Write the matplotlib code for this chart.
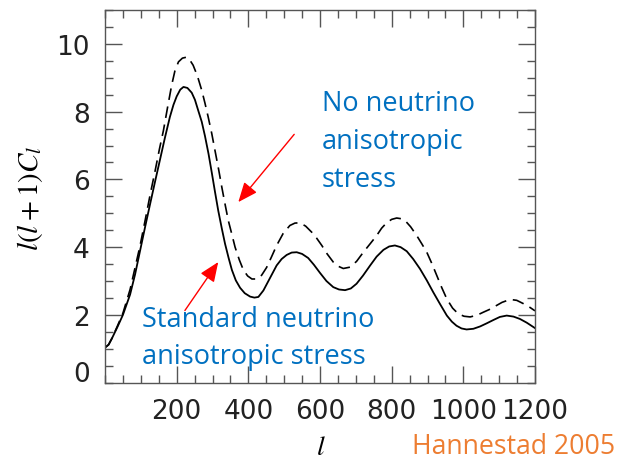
import matplotlib
matplotlib.use("Agg")
import matplotlib.pyplot as plt
from matplotlib.ticker import MultipleLocator

# solid: standard neutrino anisotropic stress
l_std = [2, 10, 20, 35, 50, 70, 84, 98, 112, 126, 140, 153, 167, 181, 191, 200, 210, 219,
         230, 242, 251, 260, 270, 279, 289, 298, 307, 316, 326, 335, 345, 354, 365, 377,
         390, 405, 417, 428, 442, 460, 479, 493, 507, 521, 535, 550, 567, 583, 600, 618,
         637, 653, 670, 686, 702, 720, 740, 758, 777, 793, 809, 825, 842, 860, 879, 898,
         916, 935, 954, 968, 981, 995, 1009, 1028, 1047, 1065, 1084, 1102, 1121, 1140,
         1158, 1177, 1200]
cl_std = [1.05, 1.12, 1.32, 1.65, 2.0, 2.6, 3.2, 3.9, 4.6, 5.28, 5.95, 6.56, 7.22, 7.84,
          8.2, 8.45, 8.65, 8.73, 8.7, 8.56, 8.35, 8.04, 7.7, 7.28, 6.75, 6.2, 5.63, 5.08,
          4.55, 4.1, 3.68, 3.33, 3.02, 2.8, 2.64, 2.54, 2.51, 2.53, 2.72, 3.08, 3.46, 3.65,
          3.77, 3.84, 3.85, 3.8, 3.68, 3.48, 3.24, 3.0, 2.82, 2.75, 2.73, 2.78, 2.92, 3.16,
          3.46, 3.72, 3.92, 4.02, 4.05, 4.0, 3.88, 3.65, 3.36, 3.02, 2.67, 2.32, 1.98, 1.8,
          1.68, 1.6, 1.57, 1.59, 1.66, 1.75, 1.85, 1.94, 1.98, 1.95, 1.88, 1.77, 1.61]

# dashed: no neutrino anisotropic stress
l_no = [2, 10, 20, 35, 50, 70, 84, 98, 112, 126, 140, 152, 163, 175, 186, 195, 205, 216,
        228, 237, 246, 258, 270, 279, 288, 298, 307, 317, 326, 335, 344, 354, 363, 375,
        386, 398, 410, 423, 437, 451, 465, 479, 497, 516, 530, 544, 560, 577, 591, 605,
        620, 637, 650, 665, 684, 702, 721, 740, 758, 772, 786, 800, 814, 826, 837, 853,
        870, 884, 898, 912, 926, 940, 954, 970, 986, 1002, 1019, 1038, 1056, 1075, 1093,
        1108, 1121, 1135, 1149, 1168, 1186, 1200]
cl_no = [1.05, 1.12, 1.32, 1.68, 2.05, 2.75, 3.4, 4.05, 4.79, 5.55, 6.26, 6.9, 7.44, 8.15,
         8.78, 9.2, 9.47, 9.58, 9.61, 9.52, 9.37, 9.05, 8.63, 8.25, 7.84, 7.35, 6.85, 6.3,
         5.77, 5.27, 4.79, 4.38, 4.0, 3.62, 3.33, 3.15, 3.06, 3.06, 3.17, 3.4, 3.72, 4.05,
         4.4, 4.64, 4.71, 4.72, 4.62, 4.44, 4.26, 4.05, 3.8, 3.56, 3.44, 3.37, 3.41, 3.58,
         3.85, 4.1, 4.34, 4.56, 4.72, 4.82, 4.86, 4.84, 4.79, 4.6, 4.34, 4.1, 3.85, 3.52,
         3.16, 2.8, 2.47, 2.2, 2.03, 1.96, 1.94, 1.99, 2.08, 2.17, 2.28, 2.37, 2.42, 2.45,
         2.43, 2.33, 2.22, 2.12]

xticks = [200, 400, 600, 800, 1000, 1200]
yticks = [2, 4, 6, 8, 10]

blue = '#0070C0'
orange = '#ED7D31'
grey = '#555555'

fig = plt.figure(figsize=(6.25, 4.6), dpi=100)
ax = fig.add_axes([0.168, 0.166, 0.688, 0.810])

ax.plot(l_std, cl_std, color='black', lw=1.3)
ax.plot(l_no, cl_no, color='black', lw=1.2, dashes=(7, 4))

ax.set_xlim(0, 1200)
ax.set_ylim(0, 11)
ax.set_xticks(xticks)
ax.set_xticklabels([str(t) for t in xticks])
ax.set_yticks(yticks)
ax.set_yticklabels([str(t) for t in yticks])
ax.xaxis.set_minor_locator(MultipleLocator(50))
ax.yaxis.set_minor_locator(MultipleLocator(0.5))
ax.tick_params(which='both', direction='in', top=True, right=True, color=grey, width=1)
ax.tick_params(which='major', length=12)
ax.tick_params(which='minor', length=6)
ax.tick_params(axis='both', labelsize=19, labelcolor='#222222', pad=11)
for s in ax.spines.values():
    s.set_color(grey)
    s.set_linewidth(1)

# the "0" label sits a bit above the axis in the original
ax.text(-0.035, 0.26, '0', transform=ax.get_yaxis_transform(), ha='right', va='center',
        fontsize=19, color='#222222')

fig.text(30 / 625, 1 - 198 / 460, r'$l(l+1)C_l$', rotation=90, ha='center', va='center',
         fontsize=21, math_fontfamily='stix')
fig.text(321 / 625, 1 - 447 / 460, r'$l$', ha='center', va='center', fontsize=20,
         math_fontfamily='stix')

fig.text(322 / 625, 1 - 90 / 460, 'No neutrino\nanisotropic\nstress',
         ha='left', va='top', fontsize=19.5, color=blue, family='Open Sans', linespacing=1.47)
fig.text(142 / 625, 1 - 306 / 460, 'Standard neutrino\nanisotropic stress',
         ha='left', va='top', fontsize=19.5, color=blue, family='Open Sans', linespacing=1.45)
fig.text(412 / 625, 1 - 447 / 460, 'Hannestad 2005', ha='left', va='center', fontsize=19.2,
         color=orange, family='Open Sans')

arrow = dict(arrowstyle='-|>,head_length=1.2,head_width=0.5', color='red', lw=1,
             mutation_scale=10, shrinkA=0, shrinkB=0)
ax.annotate('', xy=(372, 5.33), xytext=(528, 7.33), arrowprops=arrow)
ax.annotate('', xy=(316, 3.56), xytext=(223, 2.13), arrowprops=arrow)

fig.savefig('out.png', dpi=100)
